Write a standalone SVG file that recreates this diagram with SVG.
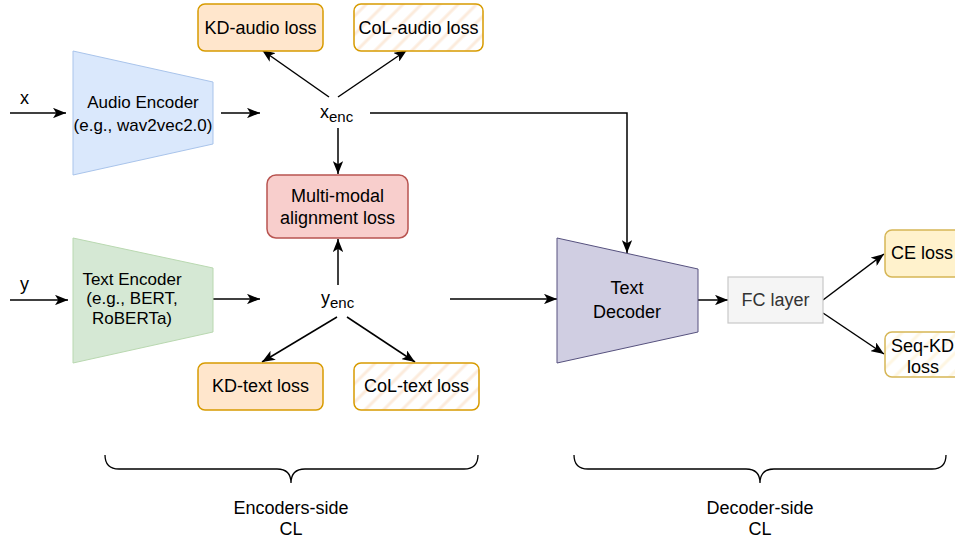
<svg xmlns="http://www.w3.org/2000/svg" width="955" height="543" viewBox="0 0 955 543">
<defs>
<marker id="arr" markerUnits="userSpaceOnUse" viewBox="0 0 10 8" refX="10" refY="4" markerWidth="13" markerHeight="10.5" orient="auto">
<path d="M0,0 L10,4 L0,8 L2.5,4 z" fill="#000"/>
</marker>
<pattern id="hatchO" patternUnits="userSpaceOnUse" width="13" height="13" patternTransform="rotate(45)">
<rect width="13" height="13" fill="#fff"/>
<line x1="2" y1="0" x2="2" y2="13" stroke="#fcebdc" stroke-width="3"/>
</pattern>
<pattern id="hatchY" patternUnits="userSpaceOnUse" width="13" height="13" patternTransform="rotate(45)">
<rect width="13" height="13" fill="#fff"/>
<line x1="2" y1="0" x2="2" y2="13" stroke="#fef6e2" stroke-width="3"/>
</pattern>
</defs>
<style>
text{font-family:"Liberation Sans",Arial,sans-serif;fill:#000}
.t18{font-size:18px}
.t17{font-size:17px}
.c{text-anchor:middle}
.kd{fill:#ffe6cc;stroke:#d79b00;stroke-width:1.5}
.col{fill:url(#hatchO);stroke:#d79b00;stroke-width:1.5}
.ce{fill:#fff2cc;stroke:#d6b656;stroke-width:1.5}
.sq{fill:url(#hatchY);stroke:#d6b656;stroke-width:1.5}
.edge{fill:none;stroke:#000;stroke-width:1.5}
.brace{fill:none;stroke:#000;stroke-width:1.3}
</style>
<rect width="955" height="543" fill="#fff"/>

<g id="connectors">
<line class="edge" x1="10" y1="113" x2="66" y2="113" marker-end="url(#arr)"/>
<line class="edge" x1="221" y1="113" x2="260" y2="113" marker-end="url(#arr)"/>
<line class="edge" x1="10" y1="300" x2="68" y2="300" marker-end="url(#arr)"/>
<line class="edge" x1="213" y1="299" x2="260" y2="299" marker-end="url(#arr)"/>
<line class="edge" x1="329" y1="97" x2="262" y2="50" marker-end="url(#arr)"/>
<line class="edge" x1="338" y1="97" x2="407" y2="50" marker-end="url(#arr)"/>
<line class="edge" x1="338" y1="128" x2="338" y2="174" marker-end="url(#arr)"/>
<line class="edge" x1="338" y1="285" x2="338" y2="239" marker-end="url(#arr)"/>
<line class="edge" x1="337" y1="317" x2="262" y2="362" marker-end="url(#arr)"/>
<line class="edge" x1="347" y1="317" x2="415" y2="362" marker-end="url(#arr)"/>
<path class="edge" d="M370,113 H627 V253" marker-end="url(#arr)"/>
<line class="edge" x1="450" y1="299" x2="557" y2="299" marker-end="url(#arr)"/>
<line class="edge" x1="698" y1="300" x2="728" y2="300" marker-end="url(#arr)"/>
<line class="edge" x1="823" y1="300" x2="884" y2="254" marker-end="url(#arr)"/>
<line class="edge" x1="823" y1="313" x2="884" y2="354" marker-end="url(#arr)"/>
</g>

<g id="label-x"><text class="t18" x="20" y="104">x</text></g>
<g id="label-y"><text class="t18" x="20" y="290">y</text></g>

<g id="audio-encoder">
<polygon points="73,51 213,82 213,144 73,175" fill="#dae8fc" stroke="#a9c4eb" stroke-width="1"/>
<text class="t17 c" x="143" y="108">Audio Encoder</text>
<text class="t17 c" x="143" y="131">(e.g., wav2vec2.0)</text>
</g>

<g id="text-encoder">
<polygon points="73,238 213,268 213,332 73,363" fill="#d5e8d4" stroke="#b9d8b0" stroke-width="1"/>
<text class="t17 c" x="132" y="285">Text Encoder</text>
<text class="t17 c" x="132" y="304">(e.g., BERT,</text>
<text class="t17 c" x="132" y="324">RoBERTa)</text>
</g>

<g id="x-enc"><text class="t18" x="320" y="118">x<tspan font-size="15" dy="4">enc</tspan></text></g>
<g id="y-enc"><text class="t18" x="321" y="304">y<tspan font-size="15" dy="4">enc</tspan></text></g>

<g id="kd-audio-loss">
<rect class="kd" x="198" y="4" width="125" height="47" rx="7"/>
<text class="t18 c" x="260.5" y="34">KD-audio loss</text>
</g>
<g id="col-audio-loss">
<rect class="col" x="354" y="4" width="129" height="47" rx="7"/>
<text class="t18 c" x="418.5" y="34">CoL-audio loss</text>
</g>

<g id="multimodal-loss">
<rect x="267" y="175" width="141" height="63" rx="9" fill="#f8cecc" stroke="#b85450" stroke-width="1.5"/>
<text class="t18 c" x="337.5" y="202">Multi-modal</text>
<text class="t18 c" x="337.5" y="224">alignment loss</text>
</g>

<g id="kd-text-loss">
<rect class="kd" x="198" y="363" width="125" height="47" rx="7"/>
<text class="t18 c" x="260.5" y="392">KD-text loss</text>
</g>
<g id="col-text-loss">
<rect class="col" x="354" y="363" width="125" height="47" rx="7"/>
<text class="t18 c" x="416.5" y="392">CoL-text loss</text>
</g>

<g id="text-decoder">
<polygon points="557,238 698,269 698,332 557,363" fill="#d0cee2" stroke="#56517e" stroke-width="1"/>
<text class="t18 c" x="627" y="294">Text</text>
<text class="t18 c" x="627" y="318">Decoder</text>
</g>

<g id="fc-layer">
<rect x="728" y="277" width="95" height="46" fill="#f5f5f5" stroke="#c8c8c8" stroke-width="1.2"/>
<text class="t18 c" x="775.5" y="306" style="fill:#333">FC layer</text>
</g>

<g id="ce-loss">
<rect class="ce" x="885" y="230" width="80" height="47" rx="7"/>
<text class="t18" x="891" y="259">CE loss</text>
</g>
<g id="seqkd-loss">
<rect class="sq" x="885" y="332" width="80" height="45" rx="7"/>
<text class="t18" x="891" y="352">Seq-KD</text>
<text class="t18 c" x="923" y="373">loss</text>
</g>

<g id="encoders-brace">
<path class="brace" d="M105,455 Q105,469 119,469 L277,469 Q291,469 291,483 Q291,469 305,469 L464,469 Q478,469 478,455"/>
<text class="t18 c" x="291" y="514">Encoders-side</text>
<text class="t18 c" x="291" y="535">CL</text>
</g>
<g id="decoder-brace">
<path class="brace" d="M574,455 Q574,469 588,469 L746,469 Q760,469 760,483 Q760,469 774,469 L932,469 Q946,469 946,455"/>
<text class="t18 c" x="760" y="514">Decoder-side</text>
<text class="t18 c" x="760" y="535">CL</text>
</g>
</svg>
